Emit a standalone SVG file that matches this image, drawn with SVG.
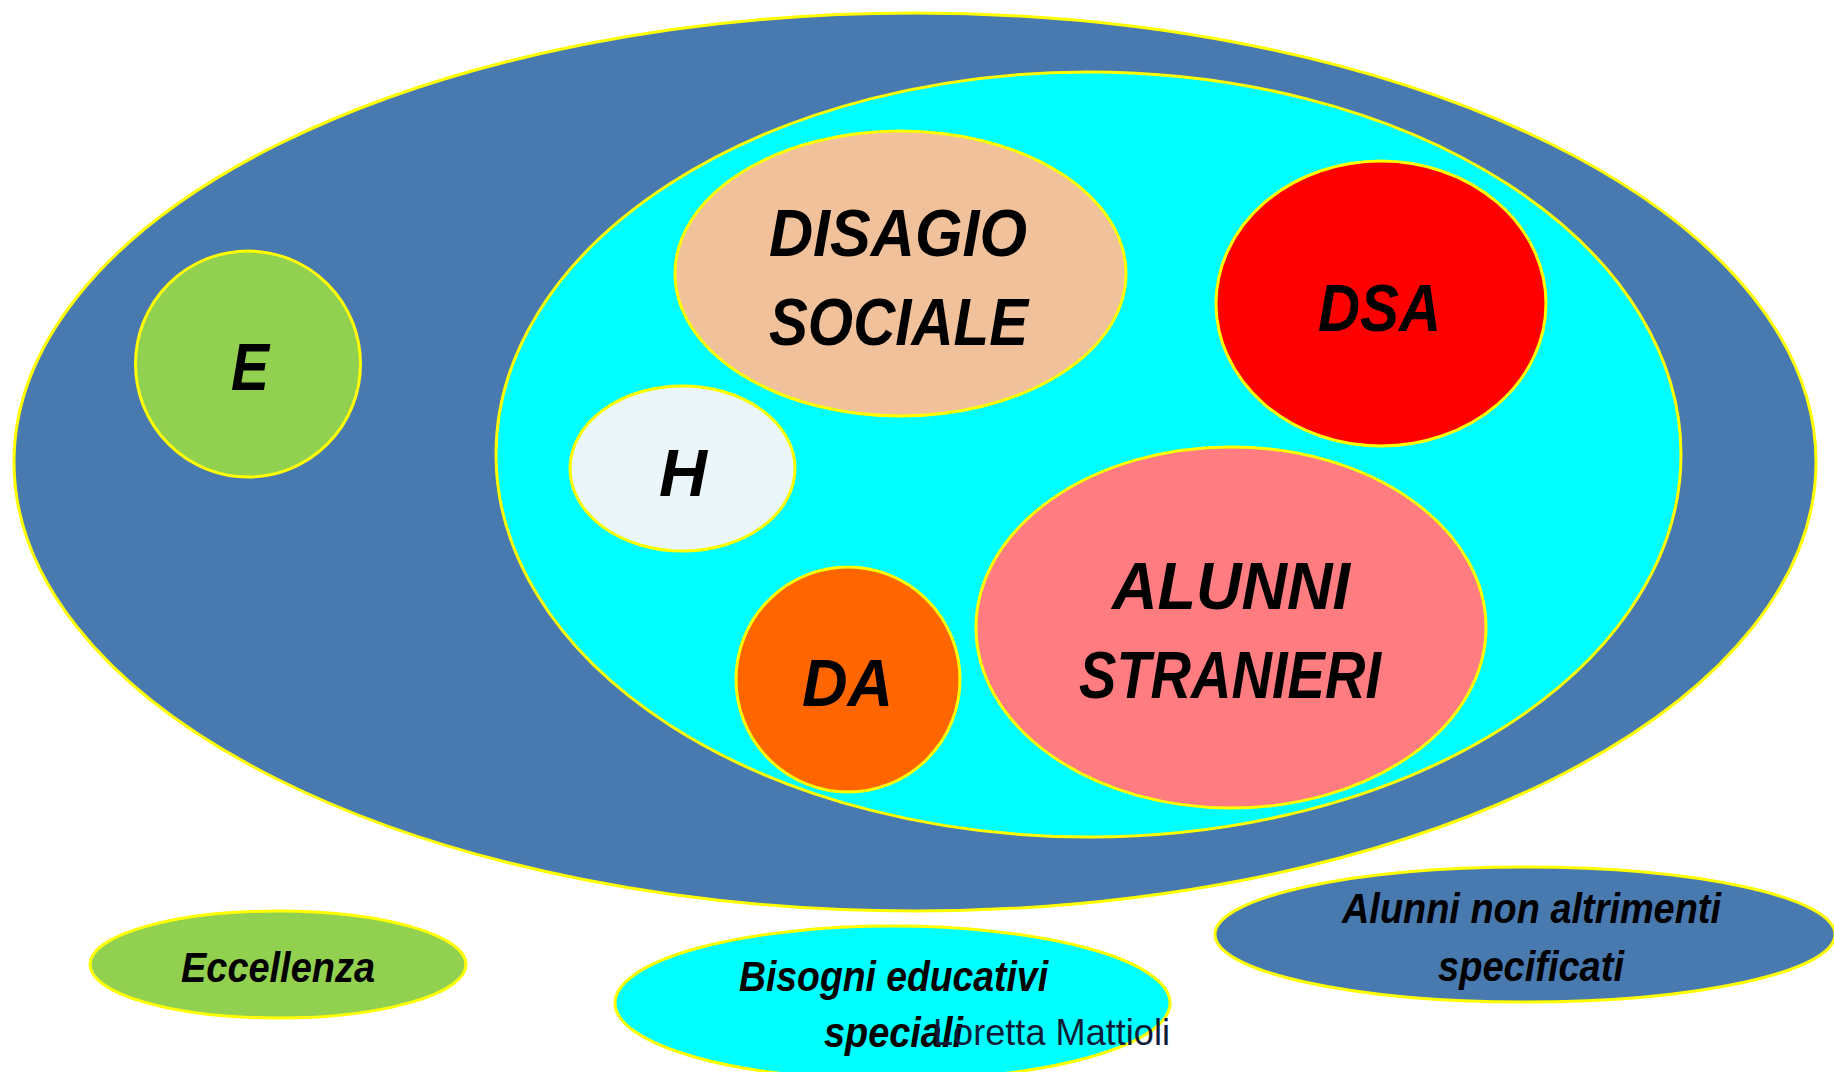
<svg xmlns="http://www.w3.org/2000/svg" width="1834" height="1072" viewBox="0 0 1834 1072">
<style>
.sh{stroke:#FFFF00;stroke-width:3}
.big{font-family:"Liberation Sans",Arial,sans-serif;font-weight:bold;font-style:italic;font-size:66px;fill:#000}
.sm{font-family:"Liberation Sans",Arial,sans-serif;font-weight:bold;font-style:italic;font-size:42px;fill:#000}
.au{font-family:"Liberation Sans",Arial,sans-serif;font-size:37px;fill:#0E1C38}
</style>
<rect width="1834" height="1072" fill="#FFFFFF"/>
<g id="alunni-non-specificati-area"><ellipse class="sh" cx="915" cy="462" rx="901" ry="449" fill="#4879AF"/></g>
<g id="bes-area"><ellipse class="sh" cx="1088.5" cy="454.5" rx="592.5" ry="382.5" fill="#00FFFF"/></g>
<g id="node-E">
<ellipse class="sh" cx="248" cy="364" rx="112.5" ry="113" fill="#92D050"/>
<text class="big" x="231" y="390" textLength="38" lengthAdjust="spacingAndGlyphs">E</text>
</g>
<g id="node-disagio">
<ellipse class="sh" cx="900.5" cy="273.5" rx="225.5" ry="142.5" fill="#F0C19A"/>
<text class="big" x="769" y="255.5" textLength="258" lengthAdjust="spacingAndGlyphs">DISAGIO</text>
<text class="big" x="769" y="344.5" textLength="259" lengthAdjust="spacingAndGlyphs">SOCIALE</text>
</g>
<g id="node-DSA">
<ellipse class="sh" cx="1381" cy="303.5" rx="165" ry="142.5" fill="#FF0000"/>
<text class="big" x="1318" y="331" textLength="123" lengthAdjust="spacingAndGlyphs">DSA</text>
</g>
<g id="node-H">
<ellipse class="sh" cx="682.5" cy="468.5" rx="112.5" ry="82.5" fill="#EBF6FA"/>
<text class="big" x="659" y="496" textLength="48" lengthAdjust="spacingAndGlyphs">H</text>
</g>
<g id="node-alunni-stranieri">
<ellipse class="sh" cx="1231" cy="627.5" rx="255" ry="180.5" fill="#FF7C80"/>
<text class="big" x="1112" y="608.5" textLength="238" lengthAdjust="spacingAndGlyphs">ALUNNI</text>
<text class="big" x="1079" y="698" textLength="302" lengthAdjust="spacingAndGlyphs">STRANIERI</text>
</g>
<g id="node-DA">
<ellipse class="sh" cx="848" cy="679.5" rx="112" ry="112.5" fill="#FF6600"/>
<text class="big" x="802" y="706" textLength="91" lengthAdjust="spacingAndGlyphs">DA</text>
</g>
<g id="legend-eccellenza">
<ellipse class="sh" cx="278" cy="964.5" rx="188" ry="53.5" fill="#92D050"/>
<text class="sm" x="181" y="982" textLength="194" lengthAdjust="spacingAndGlyphs">Eccellenza</text>
</g>
<g id="legend-bes">
<ellipse class="sh" cx="892.5" cy="1003" rx="277.5" ry="77" fill="#00FFFF"/>
<text class="sm" x="739" y="991" textLength="309" lengthAdjust="spacingAndGlyphs">Bisogni educativi</text>
<text class="sm" x="824" y="1047" textLength="139" lengthAdjust="spacingAndGlyphs">speciali</text>
</g>
<g id="legend-non-specificati">
<ellipse class="sh" cx="1525" cy="934.5" rx="310" ry="67.5" fill="#4879AF"/>
<text class="sm" x="1342" y="923" textLength="379" lengthAdjust="spacingAndGlyphs">Alunni non altrimenti</text>
<text class="sm" x="1438" y="981" textLength="186" lengthAdjust="spacingAndGlyphs">specificati</text>
</g>
<g id="connectors"></g>
<text class="au" x="933" y="1045" textLength="237" lengthAdjust="spacingAndGlyphs">Loretta Mattioli</text>
</svg>
